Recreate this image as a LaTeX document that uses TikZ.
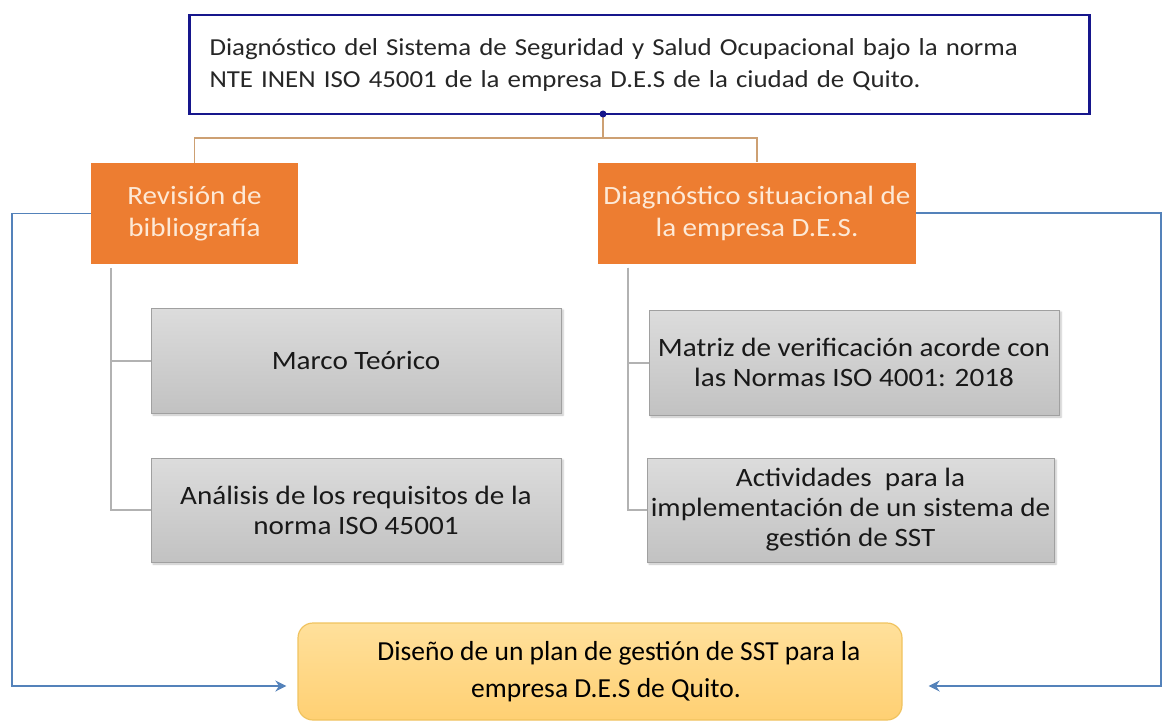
\documentclass[tikz,border=0pt]{standalone}
\usepackage{fontspec}
\setmainfont{Carlito}[FakeStretch=1.1]
\newfontfamily\plainfont{Carlito}
\usepackage{xcolor}
\usetikzlibrary{arrows,arrows.meta,calc,positioning,shadows.blur}
\definecolor{navyline}{RGB}{22,22,140}
\definecolor{orangebox}{RGB}{237,125,49}
\definecolor{creamtext}{RGB}{253,233,214}
\definecolor{tanline}{RGB}{205,160,115}
\definecolor{blueline}{RGB}{84,130,186}
\definecolor{greytree}{RGB}{178,178,178}
\definecolor{greyedge}{RGB}{160,160,160}
\definecolor{greytop}{RGB}{220,220,220}
\definecolor{greybot}{RGB}{194,194,194}
\definecolor{yellowtop}{RGB}{255,224,155}
\definecolor{yellowbot}{RGB}{255,208,115}
\definecolor{yellowedge}{RGB}{240,195,95}
\tikzset{
    x=1pt, y=-1pt, % one unit is one pixel of the scan, y runs down
    title/.style={draw=navyline, line width=2.5pt, fill=white, inner xsep=20pt, text width=860pt, align=left, minimum height=99pt, font=\fontsize{24.4}{32}\selectfont, text=black!85}, % top box
    stage/.style={fill=orangebox, text=creamtext, align=center, inner sep=0pt, minimum height=101pt, font=\fontsize{26.4}{32}\selectfont}, % orange boxes
    task/.style={draw=greyedge, line width=1pt, top color=greytop, bottom color=greybot, align=center, inner sep=0pt, minimum height=104pt, font=\fontsize{26.5}{30}\selectfont, text=black!90, blur shadow={shadow xshift=2pt, shadow yshift=-2pt, shadow blur steps=4, shadow opacity=25}}, % grey boxes
    goal/.style={draw=yellowedge, line width=1.2pt, rounded corners=15pt, top color=yellowtop, bottom color=yellowbot, align=center, minimum width=604pt, minimum height=97pt, font=\plainfont\fontsize{27.5}{37}\selectfont, text=black}, % result box
}
\tikzstyle{orgline} = [tanline, line width=1.5pt]
\tikzstyle{treeline} = [greytree, line width=2pt]
\tikzstyle{flow} = [blueline, line width=1.8pt, -{Stealth[length=11pt,width=11pt]}]

\begin{document}
\begin{tikzpicture}
    \useasboundingbox (0,0) rectangle (1163,725);
    % top box
    \node[title] (top) at (639.5,64.5) {Diagnóstico del Sistema de Seguridad y Salud Ocupacional bajo la norma\\NTE INEN ISO 45001 de la empresa D.E.S de la ciudad de Quito.};
    % two stages
    \node[stage, minimum width=207pt] (rev) at (194.5,213.5) {Revisión de\\bibliografía};
    \node[stage, minimum width=318pt] (diag) at (757,213) {Diagnóstico situacional de\\la empresa D.E.S.};
    % grey tasks
    \node[task, minimum width=410pt, minimum height=105pt] (marco) at (356,360.5) {Marco Teórico};
    \node[task, minimum width=410pt] (anal) at (356,510) {Análisis de los requisitos de la\\norma ISO 45001};
    \node[task, minimum width=410pt, minimum height=105pt] (matriz) at (854,362.5) {Matriz de verificación acorde con\\las Normas ISO 4001: 2018};
    \node[task, minimum width=407pt] (activ) at (850.5,510) {Actividades~ para la\\implementación de un sistema de\\gestión de SST};
    % result
    \node[goal] (plan) at (600,671.5) {\hspace*{38pt}Diseño de un plan de gestión de SST para la\\\hspace*{12pt}empresa D.E.S de Quito.};

    \coordinate (tdot) at (603,114);
    \coordinate (fork) at (603,138);
    \coordinate (lbend) at (12,686);
    \coordinate (rbend) at (1161,686);

    \draw[orgline] (tdot) -- (fork) -| (rev.north);
    \draw[orgline] (fork) -| (diag.north);
    \fill[navyline] (tdot) circle (3.5pt);

    \draw[treeline] ([xshift=20pt,yshift=-4pt]rev.south west) |- (marco.west);
    \draw[treeline] ([xshift=20pt,yshift=-4pt]rev.south west) |- (anal.west);
    \draw[treeline] ([xshift=30pt,yshift=-4pt]diag.south west) |- (matriz.west);
    \draw[treeline] ([xshift=30pt,yshift=-4pt]diag.south west) |- (activ.west);

    \draw[flow, shorten >=11pt] (rev.west) -| (lbend) -- (plan.west |- lbend);
    \draw[flow, shorten >=26pt] (diag.east) -| (rbend) -- (plan.east |- rbend);
\end{tikzpicture}
\end{document}
